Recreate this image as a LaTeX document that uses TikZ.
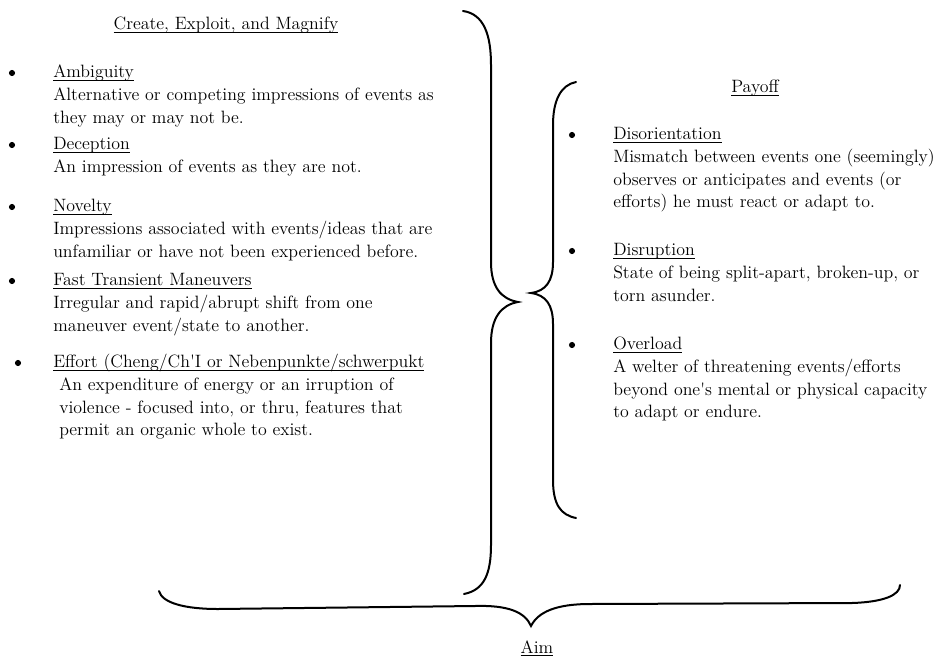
\documentclass[tikz,border=0pt]{standalone}
\usepackage{tikz}
\usetikzlibrary{positioning}
\newcommand{\bodyfont}{\fontsize{13.4}{16.9}\selectfont}
\newcommand{\ul}[1]{\underline{\smash{#1}}}
\newcommand{\lh}{22.53}% line height in px

\begin{document}
\begin{tikzpicture}[
  x=0.75pt,y=-0.75pt,
  every node/.style={font=\bodyfont,inner sep=0pt},
  title/.style={anchor=base},
  item/.style={anchor=base west,align=left},
  dot/.style={circle,fill=black,minimum size=4.6pt},
  bracestroke/.style={line width=1.5pt,line cap=round}
]
\useasboundingbox (0,0) rectangle (941,660);
% left column (anchored at the baseline of the last line)
\node[title] (cem) at (226,30) {\ul{Create, Exploit, and Magnify}};
\node[item] (amb) at (53,{78+2*\lh}) {\ul{Ambiguity}\\Alternative or competing impressions of events as\\they may or may not be.};
\node[item] (dec) at (53,{150+\lh}) {\ul{Deception}\\An impression of events as they are not.};
\node[item] (nov) at (53,{212+2*\lh}) {\ul{Novelty}\\Impressions associated with events/ideas that are\\unfamiliar or have not been experienced before.};
\node[item] (ftm) at (53,{286+2*\lh}) {\ul{Fast Transient Maneuvers}\\Irregular and rapid/abrupt shift from one\\maneuver event/state to another.};
\node[item] (eff) at (53,{368+3*\lh}) {\ul{Effort (Cheng/Ch\textquotesingle I or Nebenpunkte/schwerpukt}\\
  \hspace*{4.5pt}An expenditure of energy or an irruption of\\
  \hspace*{4.5pt}violence - focused into, or thru, features that\\
  \hspace*{4.5pt}permit an organic whole to exist.};
\node[dot] (b1) at (12,73) {};
\node[dot] (b2) at (12,145) {};
\node[dot] (b3) at (12,207) {};
\node[dot] (b4) at (12,281) {};
\node[dot] (b5) at (18,363) {};
% right column
\node[title] (pay) at (755,93) {\ul{Payoff}};
\node[item] (dis) at (613,{140+3*\lh}) {\ul{Disorientation}\\Mismatch between events one (seemingly)\\observes or anticipates and events (or\\efforts) he must react or adapt to.};
\node[item] (dsr) at (613,{256+2*\lh}) {\ul{Disruption}\\State of being split-apart, broken-up, or\\torn asunder.};
\node[item] (ovl) at (613,{350+3*\lh}) {\ul{Overload}\\A welter of threatening events/efforts\\beyond one\textquotesingle s mental or physical capacity\\to adapt or endure.};
\node[dot] (b6) at (572,135) {};
\node[dot] (b7) at (572,251) {};
\node[dot] (b8) at (572,345) {};
% aim
\node[title] (aim) at (537,653) {\ul{Aim}};
% braces
\draw[bracestroke] (463,11) .. controls (484,14) and (491,35) .. (491,65) -- (491,262)
  .. controls (491,287) and (501,299) .. (518,302)
  .. controls (501,305) and (491,318) .. (491,343) -- (491,545)
  .. controls (491,574) and (484,590) .. (464,594);
\draw[bracestroke] (576,82) .. controls (561,85) and (553,100) .. (553,125) -- (553,262)
  .. controls (553,281) and (546,291) .. (531,293)
  .. controls (546,295) and (553,305) .. (553,324) -- (553,480)
  .. controls (553,505) and (561,515) .. (576,518);
\draw[bracestroke] (159,591) .. controls (162,603) and (185,609) .. (218,609) -- (475,606)
  .. controls (508,605) and (525,612) .. (531,626)
  .. controls (538,612) and (556,604) .. (590,604) -- (852,603)
  .. controls (884,602) and (900,595) .. (900,585);
\end{tikzpicture}
\end{document}
